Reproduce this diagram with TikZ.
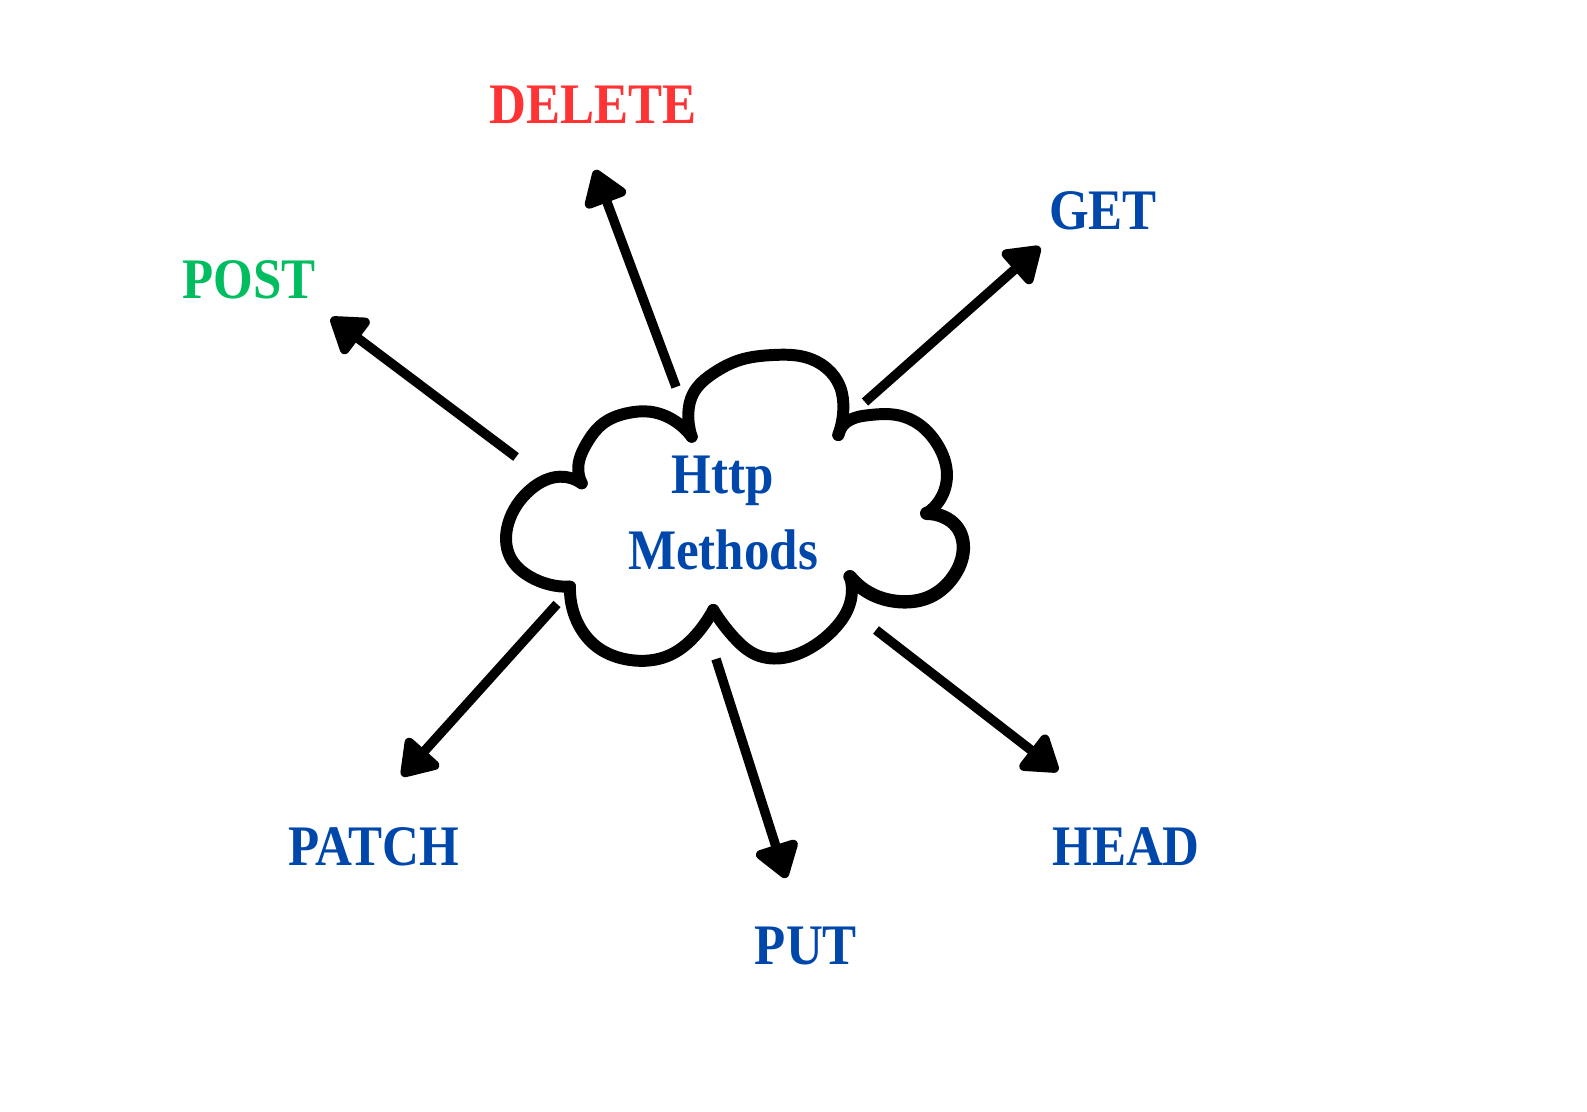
\documentclass[tikz,border=0pt]{standalone}
\usepackage{fontspec}
\setmainfont{Liberation Serif}[FakeStretch=0.89]
\usetikzlibrary{arrows.meta,hobby}
\definecolor{httpblue}{RGB}{0,71,171}
\definecolor{delred}{RGB}{255,51,51}
\definecolor{postgreen}{RGB}{0,190,96}
\begin{document}
\begin{tikzpicture}[x=0.01cm,y=-0.01cm,
  method/.style={font=\fontsize{16.3}{21.6}\selectfont\bfseries,text=httpblue,inner sep=0pt},
  arrowline/.style={line width=2.7pt,-{Triangle[length=11pt,width=14pt,round]}},
  cloudline/.style={line width=3.4pt,line join=round,line cap=round,use Hobby shortcut}]
\useasboundingbox[fill=white] (0,0) rectangle (1587,1112);
% cloud, one puff at a time
\draw[cloudline] (581.7,483.3) .. (560,476.7) .. (530,490) .. (508.3,523.3) .. (510,556.7) .. (530,576.7) .. (570,586.7);
\draw[cloudline] (570,586.7) .. (575,616.7) .. (596.7,646.7) .. (630,660) .. (670,655) .. (700,630) .. (713.3,610);
\draw[cloudline] (713.3,610) .. (733.3,636.7) .. (756.7,655) .. (780,658.3) .. (806.7,650) .. (833.3,630) .. (850,603.3) .. (850,576.7);
\draw[cloudline,line width=3.8pt] (850,576.7) .. (870,593.3) .. (900,601.7) .. (930,596.7) .. (953.3,576.7) .. (963.3,550) .. (956.7,526.7) .. (943.3,516.7) .. (926.7,513.3);
\draw[cloudline] (926.7,513.3) .. (943.3,493.3) .. (946.7,470) .. (936.7,443.3) .. (920,425) .. (896.7,415) .. (870,415) .. (843.3,425) .. (838.3,435);
\draw[cloudline] (838.3,435) .. (843.3,410) .. (840,386.7) .. (826.7,368.3) .. (803.3,356.7) .. (773.3,355) .. (740,360) .. (713.3,373.3) .. (693.3,393.3) .. (688.3,413.3) .. (691.7,436.7);
\draw[cloudline] (691.7,436.7) .. (673.3,420) .. (650,411.7) .. (626.7,413.3) .. (603.3,423.3) .. (586.7,443.3) .. (578.3,466.7) .. (581.7,483.3);
\node[method,align=center] (http) at (723,513) {Http\\Methods};
% labels
\node[method,text=delred] (delete) at (593,105) {DELETE};
\node[method] (get) at (1103,211) {GET};
\node[method,text=postgreen] (post) at (249,280) {POST};
\node[method] (patch) at (374,847) {PATCH};
\node[method] (put) at (806,946) {PUT};
\node[method] (head) at (1126,847) {HEAD};
% arrow ends
\coordinate (del-s) at (676,387);  \coordinate (del-e) at (595,170);
\coordinate (get-s) at (865,402);  \coordinate (get-e) at (1040,247);
\coordinate (post-s) at (516,457); \coordinate (post-e) at (331,318);
\coordinate (patch-s) at (557,604); \coordinate (patch-e) at (402,776);
\coordinate (put-s) at (716,659);  \coordinate (put-e) at (786,878);
\coordinate (head-s) at (876,630); \coordinate (head-e) at (1058,771);
\draw[arrowline] (del-s)--(del-e);
\draw[arrowline] (get-s)--(get-e);
\draw[arrowline] (post-s)--(post-e);
\draw[arrowline] (patch-s)--(patch-e);
\draw[arrowline] (put-s)--(put-e);
\draw[arrowline] (head-s)--(head-e);
\end{tikzpicture}
\end{document}
